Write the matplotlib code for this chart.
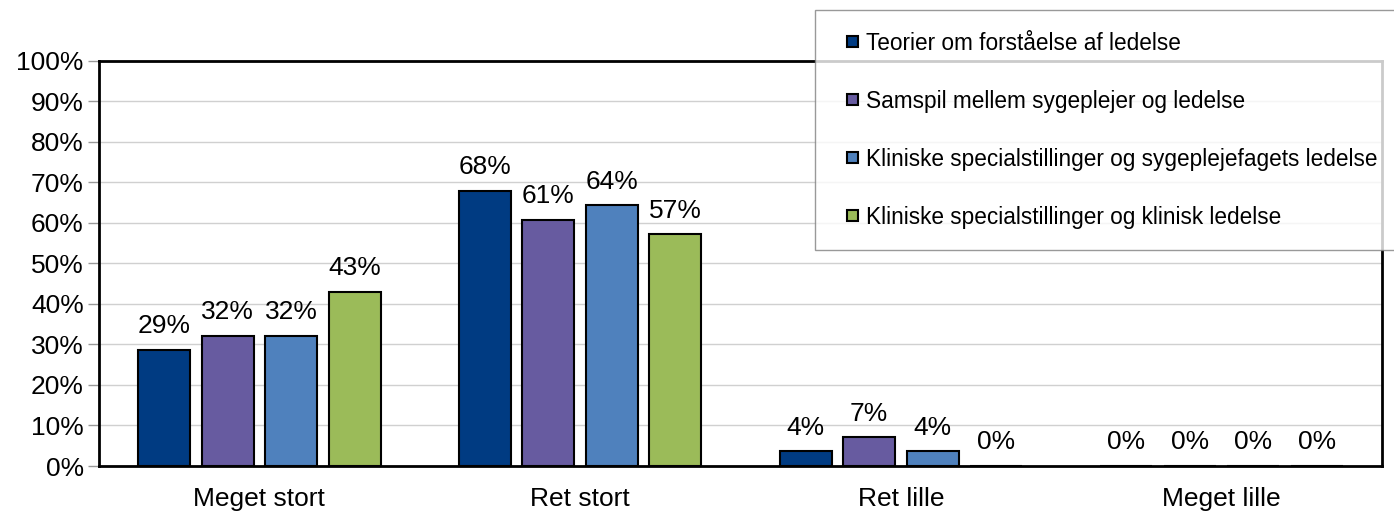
import matplotlib
matplotlib.use("Agg")
import matplotlib.pyplot as plt
from matplotlib.patches import Rectangle
from matplotlib.container import BarContainer
from matplotlib.legend_handler import HandlerPatch, update_from_first_child
import numpy as np

categories = ["Meget stort", "Ret stort", "Ret lille", "Meget lille"]
series_names = [
    "Teorier om forståelse af ledelse",
    "Samspil mellem sygeplejer og ledelse",
    "Kliniske specialstillinger og sygeplejefagets ledelse",
    "Kliniske specialstillinger og klinisk ledelse",
]
teorier = [28.6, 67.9, 3.6, 0.0]
samspil = [32.1, 60.7, 7.1, 0.0]
klin_syg = [32.1, 64.3, 3.6, 0.0]
klin_klin = [42.9, 57.1, 0.0, 0.0]
series_values = [teorier, samspil, klin_syg, klin_klin]
colors = ["#003B82", "#675BA0", "#4F81BD", "#9BBB59"]

plt.rcParams['font.family'] = ['Liberation Sans', 'DejaVu Sans']

fig = plt.figure(figsize=(13.94, 5.12), dpi=100)
ax = fig.add_axes([99/1394, 46/512, (1382-99)/1394, (466-60.5)/512])

x = np.arange(len(categories))
width = 0.162
step = 0.198
for i, (vals, col, name) in enumerate(zip(series_values, colors, series_names)):
    pos = x + (i - 1.5) * step
    ax.bar(pos, vals, width, color=col, edgecolor="black", linewidth=1.5,
           label=name, zorder=3)
    for px, v in zip(pos, vals):
        ax.annotate(f"{v:.0f}%", (px, v), xytext=(0, 12), textcoords="offset points",
                    ha="center", va="baseline", fontsize=19, zorder=4)

ax.set_xlim(-0.5, 3.5)
ax.set_ylim(0, 100)
ax.set_yticks(np.arange(0, 101, 10))
ax.set_yticklabels([f"{t}%" for t in range(0, 101, 10)], fontsize=19)
ax.set_xticks(x)
ax.set_xticklabels(categories, fontsize=19)
ax.tick_params(axis="x", length=0, pad=15)
ax.tick_params(axis="y", length=8, width=1, color="#999999", pad=3)
ax.grid(axis="y", color="#d0d0d0", linewidth=1, zorder=0)
for s in ax.spines.values():
    s.set_linewidth(2)
    s.set_color("black")


def square_patch(legend, orig_handle, xdescent, ydescent, width, height, fontsize):
    s = 11 * 72 / 100.0
    return Rectangle((-xdescent + width - s, -ydescent + (height - s) / 2), s, s)


handles, labels = ax.get_legend_handles_labels()
leg = fig.legend(handles, labels, loc="upper left",
                 bbox_to_anchor=(815/1394, 1 - 10/512),
                 fontsize=16.3, frameon=True, fancybox=False, shadow=False,
                 handlelength=0.97, handleheight=0.7, handletextpad=0.35,
                 labelspacing=1.55, borderpad=0.95, borderaxespad=0,
                 handler_map={BarContainer: HandlerPatch(patch_func=square_patch,
                                                         update_func=update_from_first_child)})
leg.get_frame().set_edgecolor("#808080")
leg.get_frame().set_linewidth(1)
leg.set_zorder(10)

fig.savefig("out.png", dpi=100)
